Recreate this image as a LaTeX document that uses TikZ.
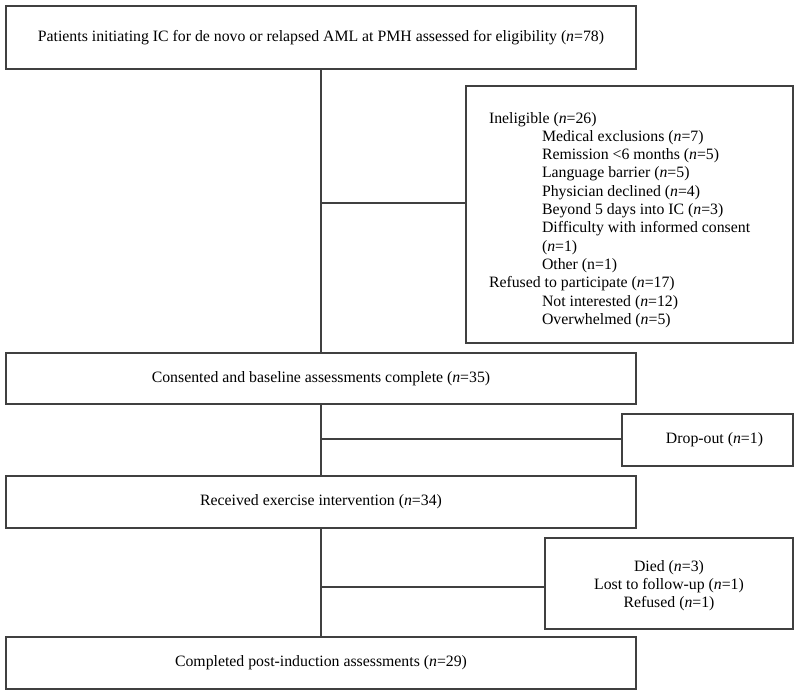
\documentclass[tikz,border=0pt]{standalone}
\usepackage{fontspec}
\setmainfont{Liberation Serif}
\begin{document}
\begin{tikzpicture}[x=1pt,y=-1pt,
  box/.style={draw=black!75,line width=1.1pt,inner sep=0pt,align=center,
    font=\fontsize{15.8}{18.3}\selectfont},
  conn/.style={draw=black!75,line width=1.1pt}]
\useasboundingbox[fill=white] (0,0) rectangle (800,696);
\node[box,minimum width=630pt,minimum height=63pt] (top) at (321,37.5)
  {Patients initiating IC for de novo or relapsed AML at PMH assessed for eligibility (\textit{n}=78)};
\node[box,minimum width=327pt,minimum height=257pt] (inel) at (629.5,214.5)
  {\raisebox{-9pt}[0pt][0pt]{\parbox{281pt}{\raggedright
   Ineligible (\textit{n}=26)\\
   \hspace*{53pt}Medical exclusions (\textit{n}=7)\\
   \hspace*{53pt}Remission <6 months (\textit{n}=5)\\
   \hspace*{53pt}Language barrier (\textit{n}=5)\\
   \hspace*{53pt}Physician declined (\textit{n}=4)\\
   \hspace*{53pt}Beyond 5 days into IC (\textit{n}=3)\\
   \hspace*{53pt}Difficulty with informed consent\\
   \hspace*{53pt}(\textit{n}=1)\\
   \hspace*{53pt}Other (n=1)\\
   Refused to participate (\textit{n}=17)\\
   \hspace*{53pt}Not interested (\textit{n}=12)\\
   \hspace*{53pt}Overwhelmed (\textit{n}=5)}}};
\node[box,minimum width=630pt,minimum height=51pt] (cons) at (321,378.5)
  {Consented and baseline assessments complete (\textit{n}=35)};
\node[box,minimum width=171pt,minimum height=52pt] (drop) at (707.5,440)
  {\hspace*{14pt}Drop-out (\textit{n}=1)};
\node[box,minimum width=630pt,minimum height=52pt] (recv) at (321,502)
  {Received exercise intervention (\textit{n}=34)};
\node[box,minimum width=248pt,minimum height=91pt] (died) at (669,583.5)
  {\raisebox{-6pt}[0pt][0pt]{\begin{tabular}{@{}c@{}}Died (\textit{n}=3)\\Lost to follow-up (\textit{n}=1)\\Refused (\textit{n}=1)\end{tabular}}};
\node[box,minimum width=630pt,minimum height=52pt] (comp) at (321,663)
  {Completed post-induction assessments (\textit{n}=29)};
\coordinate (b1) at (321,203);
\coordinate (b2) at (321,439);
\coordinate (b3) at (321,587);
\draw[conn] (top.south) -- (cons.north);
\draw[conn] (cons.south) -- (recv.north);
\draw[conn] (recv.south) -- (comp.north);
\draw[conn] (b1) -- (b1 -| inel.west);
\draw[conn] (b2) -- (b2 -| drop.west);
\draw[conn] (b3) -- (b3 -| died.west);
\end{tikzpicture}
\end{document}
